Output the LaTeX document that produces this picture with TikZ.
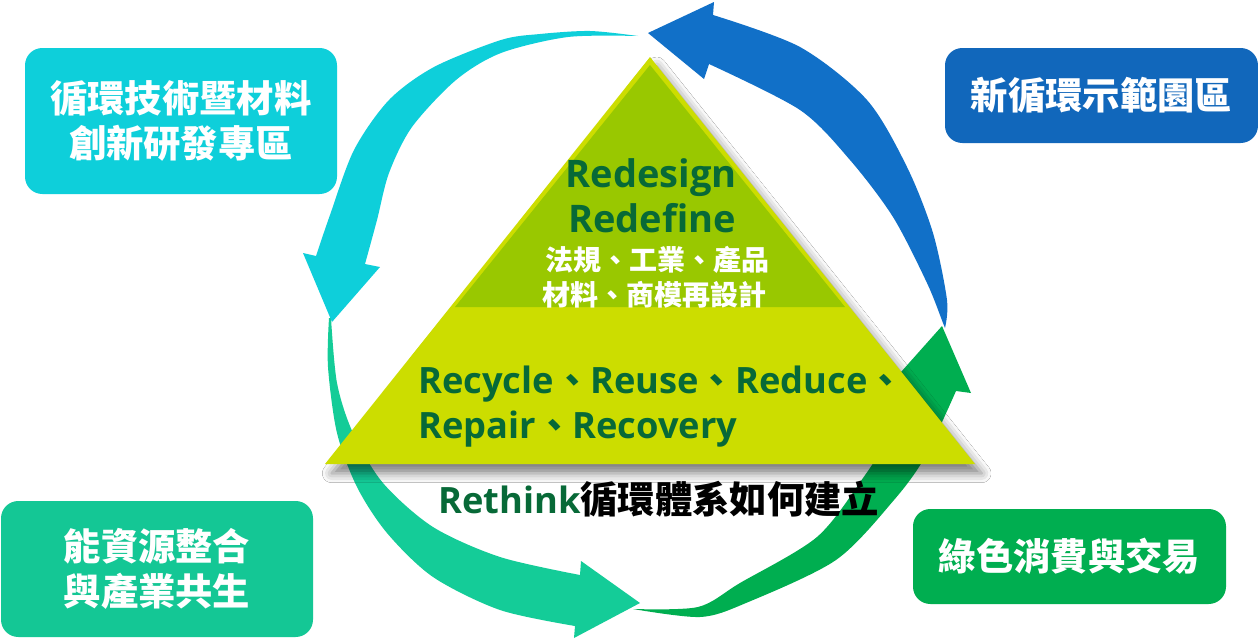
\documentclass[tikz,border=0pt]{standalone}
\usepackage{fontspec}
\newfontfamily\cjk{Noto Sans CJK TC}
\newfontfamily\lat{Open Sans}
\usetikzlibrary{shadows.blur}
\definecolor{cyanc}{RGB}{14,207,218}
\definecolor{bluebox}{RGB}{17,103,187}
\definecolor{bluearr}{RGB}{17,112,200}
\definecolor{tealc}{RGB}{20,204,152}
\definecolor{tealbox}{RGB}{20,199,149}
\definecolor{greenc}{RGB}{0,174,80}
\definecolor{trilight}{RGB}{204,221,0}
\definecolor{tridark}{RGB}{153,200,0}
\definecolor{txtgreen}{RGB}{7,105,55}
\newcommand\dun{{\cjk\bfseries 、}}
\tikzset{
  roundbox/.style={rounded corners=13pt, inner sep=0pt, align=center, text=white,
    font=\cjk\bfseries\fontsize{28}{33.75}\selectfont},
  bigbox/.style={roundbox, minimum width=234pt, minimum height=109.5pt},
  smallbox/.style={roundbox, minimum width=234.75pt, minimum height=71.25pt},
  latbig/.style={text=txtgreen, inner sep=0pt, font=\lat\bfseries\fontsize{28.5}{34}\selectfont},
  latmid/.style={text=txtgreen, inner sep=0pt, font=\lat\bfseries\fontsize{27.2}{33}\selectfont},
  cjkwhite/.style={text=white, inner sep=0pt, font=\cjk\bfseries\fontsize{21}{25}\selectfont},
}
\begin{document}
\begin{tikzpicture}[x=0.75pt,y=-0.75pt]
\useasboundingbox (0,0) rectangle (1258,639);
\fill[white] (0,0) rectangle (1258,639);

% teal arrow (left -> bottom)
\fill[tealc] plot[smooth] coordinates {(329,318) (328,367) (337,433) (357,487) (387,533) (433,577) (500,610) (575,626)}
  -- (574,638) -- (640,603) -- (581,561) -- (580,575)
  -- plot[smooth] coordinates {(580,575) (500,557) (433,527) (383,483) (353,433) (337,383) (331,318)} -- cycle;

% green arrow (bottom -> right)
\fill[greenc] plot[smooth] coordinates {(633,609) (700,617) (746,603) (836,560) (894,500) (925,457) (956,391)}
  -- (971,393) -- (942,326) -- (893,381) -- (908,383)
  -- plot[smooth] coordinates {(908,383) (887,439) (863,478) (817,537) (740,583) (698,607) (633,609)} -- cycle;

% blue arrow (right -> top)
\fill[bluearr] plot[smooth] coordinates {(945,328) (947,300) (933,233) (907,167) (867,100) (800,47) (713,15)}
  -- (714,2) -- (648,33) -- (704,79) -- (709,64)
  -- plot[smooth] coordinates {(709,64) (800,110) (850,160) (893,217) (927,283) (943,323) (945,328)} -- cycle;

% cyan arrow (top -> left)
\fill[cyanc] plot[smooth] coordinates {(638,36) (590,31) (540,34) (501,40) (434,67) (389,100) (354,150) (330,215) (316,256)}
  -- (303,253) -- (332,322) -- (380,267) -- (365,264)
  -- plot[smooth] coordinates {(365,264) (377,220) (389,173) (412,127) (456,80) (501,53) (568,37) (638,36)} -- cycle;

% boxes
\node[bigbox, fill=cyanc] (b1) at (181,121) {循環技術暨材料\\創新研發專區};
\node[smallbox, fill=bluebox] (b2) at (1101.5,95.5) {新循環示範園區};
\node[bigbox, fill=tealbox, minimum height=102pt] (b3) at (157,569) {能資源整合\\與產業共生};
\node[smallbox, fill=greenc] (b4) at (1069.5,556.5) {綠色消費與交易};

% triangle
\fill[trilight, blur shadow={shadow xshift=5pt, shadow yshift=-7pt, shadow blur radius=7pt, shadow opacity=50}]
  (650,57) -- (975,464) -- (325,464) -- cycle;
\fill[tridark] (650,65) -- (845,307) -- (455,307) -- cycle;

% texts
\node[latbig, anchor=base] (t1) at (651,187) {Redesign};
\node[latbig, anchor=base] (t2) at (652,232) {Redefine};
\node[cjkwhite] (t3) at (657,260) {法規、工業、產品};
\node[cjkwhite] (t4) at (654,295) {材料、商模再設計};
\node[latmid, anchor=base west] (t5) at (418,393) {Recycle\dun Reuse\dun Reduce\dun};
\node[latmid, anchor=base west] (t6) at (418,438) {Repair\dun Recovery};
\node[latmid, anchor=base west] (t7) at (438,513) {Rethink{\cjk\bfseries\fontsize{28}{33}\selectfont\color{black}循環體系如何建立}};
\end{tikzpicture}
\end{document}
